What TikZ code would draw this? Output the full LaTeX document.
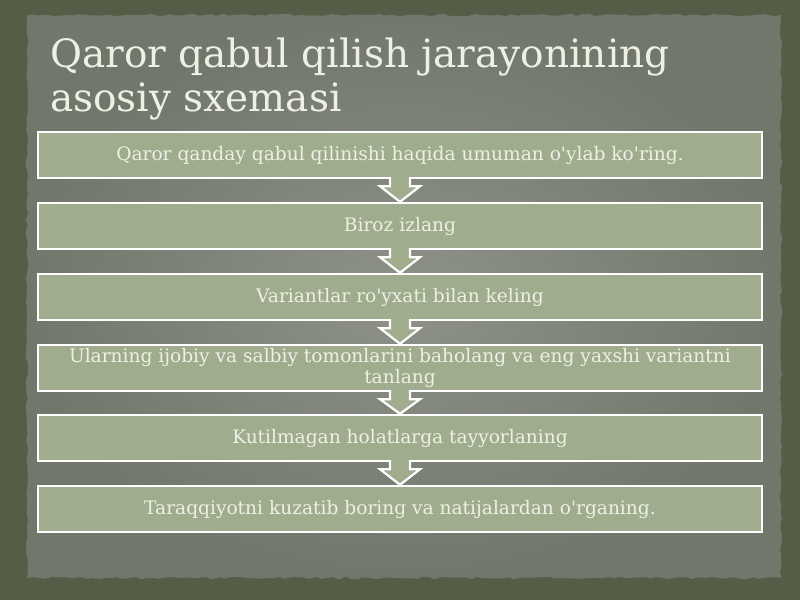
\documentclass[tikz,border=0pt]{standalone}
\usepackage{fontspec}
\setmainfont{DejaVu Serif}
\usetikzlibrary{calc,decorations.pathmorphing}
\definecolor{outerbg}{HTML}{565D47}
\definecolor{paperin}{HTML}{8E9289}
\definecolor{paperout}{HTML}{72776C}
\definecolor{boxfill}{HTML}{9FAC8D}
\definecolor{txt}{HTML}{EEF0E4}
\newcommand\ap{\textquotesingle}
\tikzset{
  stepbox/.style={draw=white, line width=2.4pt, fill=boxfill, minimum width=724pt,
    minimum height=46pt, inner sep=0pt, text width=695pt, align=flush center,
    text=txt, font=\fontsize{18.6}{21}\selectfont},
  blockarrow/.style={draw=white, line width=2.2pt, fill=boxfill, line join=miter},
  titletext/.style={anchor=base west, inner sep=0pt, text=txt, font=\fontsize{39}{44}\selectfont}
}
\begin{document}
\begin{tikzpicture}[x=1pt,y=-1pt]
\useasboundingbox (0,0) rectangle (800,600);
\fill[outerbg] (0,0) rectangle (800,600);
\pgfmathsetseed{7}
\shade[inner color=paperin, outer color=paperout,
  decorate, decoration={random steps, segment length=6pt, amplitude=1.2pt}]
  (27,15) rectangle (781,578);
\node[titletext] (t1) at (50,67) {Qaror qabul qilish jarayonining};
\node[titletext] (t2) at (50,111) {asosiy sxemasi};
\node[stepbox] (b1) at (400,155) {Qaror qanday qabul qilinishi haqida umuman o\ap ylab ko\ap ring.};
\node[stepbox] (b2) at (400,226) {Biroz izlang};
\node[stepbox] (b3) at (400,297) {Variantlar ro\ap yxati bilan keling};
\node[stepbox] (b4) at (400,368) {Ularning ijobiy va salbiy tomonlarini baholang va eng yaxshi variantni tanlang};
\node[stepbox] (b5) at (400,438) {Kutilmagan holatlarga tayyorlaning};
\node[stepbox] (b6) at (400,509) {Taraqqiyotni kuzatib boring va natijalardan o\ap rganing.};
\foreach \a/\b in {b1/b2,b2/b3,b3/b4,b4/b5,b5/b6}{
  \draw[blockarrow] ($(\a.south)+(-10,-2)$) -- ($(\a.south)+(-10,7)$) -- ($(\a.south)+(-20,7)$)
    -- (\b.north) -- ($(\a.south)+(20,7)$) -- ($(\a.south)+(10,7)$) -- ($(\a.south)+(10,-2)$);
}
\end{tikzpicture}
\end{document}
